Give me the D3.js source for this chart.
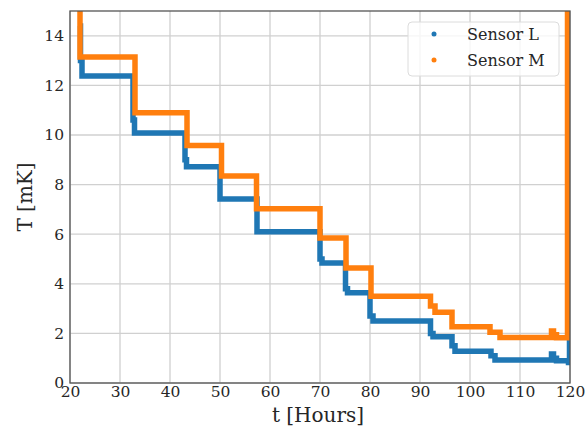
<!DOCTYPE html>
<html>
<head>
<meta charset="utf-8">
<script src="https://cdn.jsdelivr.net/npm/d3@7"></script>
<style>
  body { margin: 0; background: #fff; }
  svg text { font-family: "DejaVu Serif", serif; fill: #262626; }
</style>
</head>
<body>
<svg id="chart"></svg>
<script>
// ******************** Data ************************
// step breakpoints: value holds from t[i] until t[i+1]
var sensorL_t = [21.9, 22.1, 22.4, 32.6, 32.9, 43.0, 43.3, 50.0, 57.4, 70.0, 70.4, 75.1, 75.5, 80.0, 80.6, 92.1, 92.6, 96.4, 97.0, 104.2, 105.0, 116.3, 116.7, 117.3, 119.7, 119.9];
var sensorL_T = [14.4, 13.0, 12.38, 10.6, 10.08, 9.0, 8.72, 7.42, 6.1, 5.0, 4.84, 3.8, 3.64, 2.7, 2.5, 2.0, 1.86, 1.5, 1.28, 1.1, 0.93, 1.17, 1.0, 0.9, 0.83, 15.5];

var sensorM_t = [21.8, 22.0, 33.0, 43.4, 50.3, 57.3, 70.0, 75.2, 80.2, 92.1, 93.0, 96.4, 104.0, 106.0, 116.3, 116.7, 117.3, 119.5];
var sensorM_T = [15.5, 13.15, 10.9, 9.58, 8.35, 7.03, 5.85, 4.64, 3.5, 3.1, 2.85, 2.27, 2.05, 1.83, 2.1, 1.95, 1.82, 15.5];

var seriesNames = ["Sensor L", "Sensor M"];
var seriesColors = ["#1f77b4", "#ff7f0e"];

var xTicks = [20, 30, 40, 50, 60, 70, 80, 90, 100, 110, 120];
var yTicks = [0, 2, 4, 6, 8, 10, 12, 14];

// ******************** Layout ************************
var W = 585, H = 430;
var margin = {left: 70, top: 11, right: 15, bottom: 47};
var width = W - margin.left - margin.right;   // 500
var height = H - margin.top - margin.bottom;  // 372

var x = d3.scaleLinear().domain([20, 120]).range([0, width]);
var y = d3.scaleLinear().domain([0, 15]).range([height, 0]);

var svg = d3.select("#chart").attr("width", W).attr("height", H);
var g = svg.append("g").attr("transform", "translate(" + margin.left + "," + margin.top + ")");

g.append("clipPath").attr("id", "plotClip")
  .append("rect").attr("width", width).attr("height", height);

// grid
g.append("g").selectAll("line").data(xTicks).enter().append("line")
  .attr("x1", x).attr("x2", x).attr("y1", 0).attr("y2", height)
  .attr("stroke", "#d0d0d0").attr("stroke-width", 1.3);
g.append("g").selectAll("line").data(yTicks).enter().append("line")
  .attr("y1", y).attr("y2", y).attr("x1", 0).attr("x2", width)
  .attr("stroke", "#d0d0d0").attr("stroke-width", 1.3);

// axes (labels only, grid drawn above)
var xAxis = g.append("g").attr("transform", "translate(0," + height + ")")
  .call(d3.axisBottom(x).tickValues(xTicks).tickSize(0).tickPadding(3).tickFormat(d3.format("d")));
var yAxis = g.append("g")
  .call(d3.axisLeft(y).tickValues(yTicks).tickSize(0).tickPadding(6).tickFormat(d3.format("d")));
[xAxis, yAxis].forEach(function (a) {
  a.select(".domain").remove();
  a.selectAll("text").style("font-size", "15.5px").attr("font-family", null);
});

// series
var line = d3.line()
  .x(function (d) { return x(d[0]); })
  .y(function (d) { return y(d[1]); })
  .curve(d3.curveStepAfter);

var plot = g.append("g").attr("clip-path", "url(#plotClip)");
[[sensorL_t, sensorL_T], [sensorM_t, sensorM_T]].forEach(function (s, i) {
  plot.append("path")
    .datum(d3.zip(s[0], s[1]))
    .attr("d", line)
    .attr("fill", "none")
    .attr("stroke", seriesColors[i])
    .attr("stroke-width", 5.5);
});

// spines
g.append("rect").attr("width", width).attr("height", height)
  .attr("fill", "none").attr("stroke", "#555").attr("stroke-width", 1.3);

// axis titles
svg.append("text")
  .attr("x", margin.left + width / 2 - 2).attr("y", 422)
  .attr("text-anchor", "middle").style("font-size", "20px")
  .text("t [Hours]");
svg.append("text")
  .attr("transform", "translate(32," + (margin.top + height / 2) + ") rotate(-90)")
  .attr("text-anchor", "middle").style("font-size", "20px")
  .text("T [mK]");

// legend
var leg = svg.append("g").attr("transform", "translate(408,22)");
leg.append("rect").attr("width", 151).attr("height", 54).attr("rx", 4)
  .attr("fill", "#fff").attr("fill-opacity", 0.8)
  .attr("stroke", "#dcdcdc");
seriesNames.forEach(function (name, i) {
  leg.append("circle").attr("cx", 26).attr("cy", 12 + i * 26).attr("r", 2.5)
    .attr("fill", seriesColors[i]);
  leg.append("text").attr("x", 59).attr("y", 18 + i * 26)
    .style("font-size", "16px").text(name);
});
</script>
</body>
</html>
